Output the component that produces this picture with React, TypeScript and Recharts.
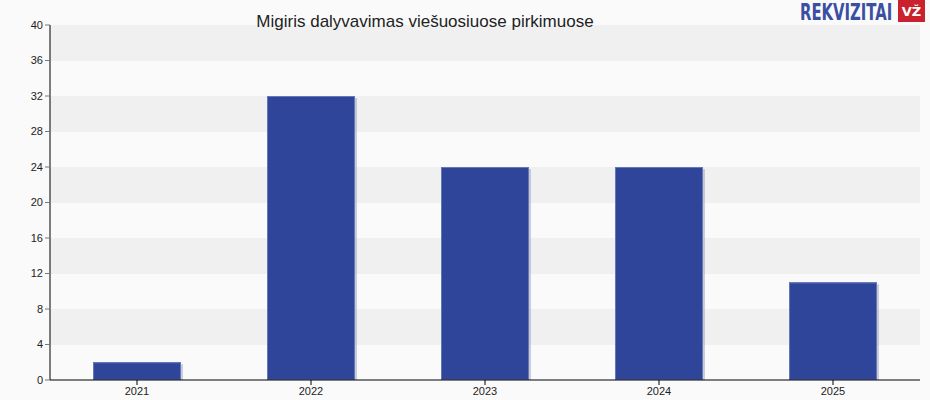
import React from 'react';
import { BarChart, Bar, XAxis, YAxis, CartesianGrid } from 'recharts';

const years = ['2021', '2022', '2023', '2024', '2025'];
const counts = [2, 32, 24, 24, 11];
const yTicks = [0, 4, 8, 12, 16, 20, 24, 28, 32, 36, 40];

const chartData = years.map((y, i) => ({ year: y, value: counts[i] }));

// bar with a lighter rim and a faint drop shadow
const ShadedBar = (props: any) => {
  const { x, y, width, height } = props;
  if (!height || height <= 0) return null;
  return (
    <g>
      <rect x={x + 2} y={y + 2} width={width} height={height - 2} fill="#9aa0b8" opacity={0.5} />
      <rect x={x} y={y} width={width} height={height} fill="#2e4599" />
      <rect x={x + 0.5} y={y + 0.5} width={width - 1} height={height - 1} fill="none" stroke="#6677b8" strokeWidth={1} />
    </g>
  );
};

const Logo = () => (
  <div style={{ position: 'absolute', left: 798, top: 0, width: 130, height: 26 }}>
    <span style={{
      position: 'absolute', left: 2, top: 0, fontFamily: 'DejaVu Sans Condensed, DejaVu Sans', fontWeight: 'bold',
      fontSize: 16.5, lineHeight: 'normal', color: '#3a4ea3', whiteSpace: 'nowrap',
      transform: 'scale(1, 1.35)', transformOrigin: 'left top',
    }}>REKVIZITAI</span>
    <div style={{
      position: 'absolute', left: 100, top: 0, width: 27, height: 22, background: '#c9212e', color: '#fff',
      fontFamily: 'DejaVu Sans, sans-serif', fontWeight: 'bold', fontSize: 13, lineHeight: '24px', textAlign: 'center',
    }}>VŽ</div>
  </div>
);

export default function App() {
  return (
    <div style={{ position: 'absolute', left: 0, top: 0, width: 930, height: 400, background: '#fafafa', fontFamily: 'Liberation Sans, Arial, sans-serif' }}>
      <div style={{ position: 'absolute', left: 0, top: 0 }}>
        <BarChart width={930} height={400} data={chartData} margin={{ top: 25, right: 10, bottom: 0, left: 0 }}>
          <CartesianGrid vertical={false} stroke="none" horizontalFill={['#f0f0f0', '#fafafa']} />
          <XAxis dataKey="year" height={20} tickSize={5} axisLine={{ stroke: '#000' }} tickLine={{ stroke: '#000' }}
            tick={{ fontSize: 11, fill: '#222' }} />
          <YAxis width={50} domain={[0, 40]} ticks={yTicks} interval={0} tickSize={5}
            axisLine={{ stroke: '#000' }} tickLine={{ stroke: '#777' }} tick={{ fontSize: 11, fill: '#222' }} />
          <Bar dataKey="value" barSize={88} shape={ShadedBar} isAnimationActive={false} />
        </BarChart>
      </div>
      <div style={{ position: 'absolute', left: 0, width: 850, top: 12, textAlign: 'center', fontSize: 17, color: '#222', lineHeight: '20px' }}>
        Migiris dalyvavimas viešuosiuose pirkimuose
      </div>
      <Logo />
    </div>
  );
}
